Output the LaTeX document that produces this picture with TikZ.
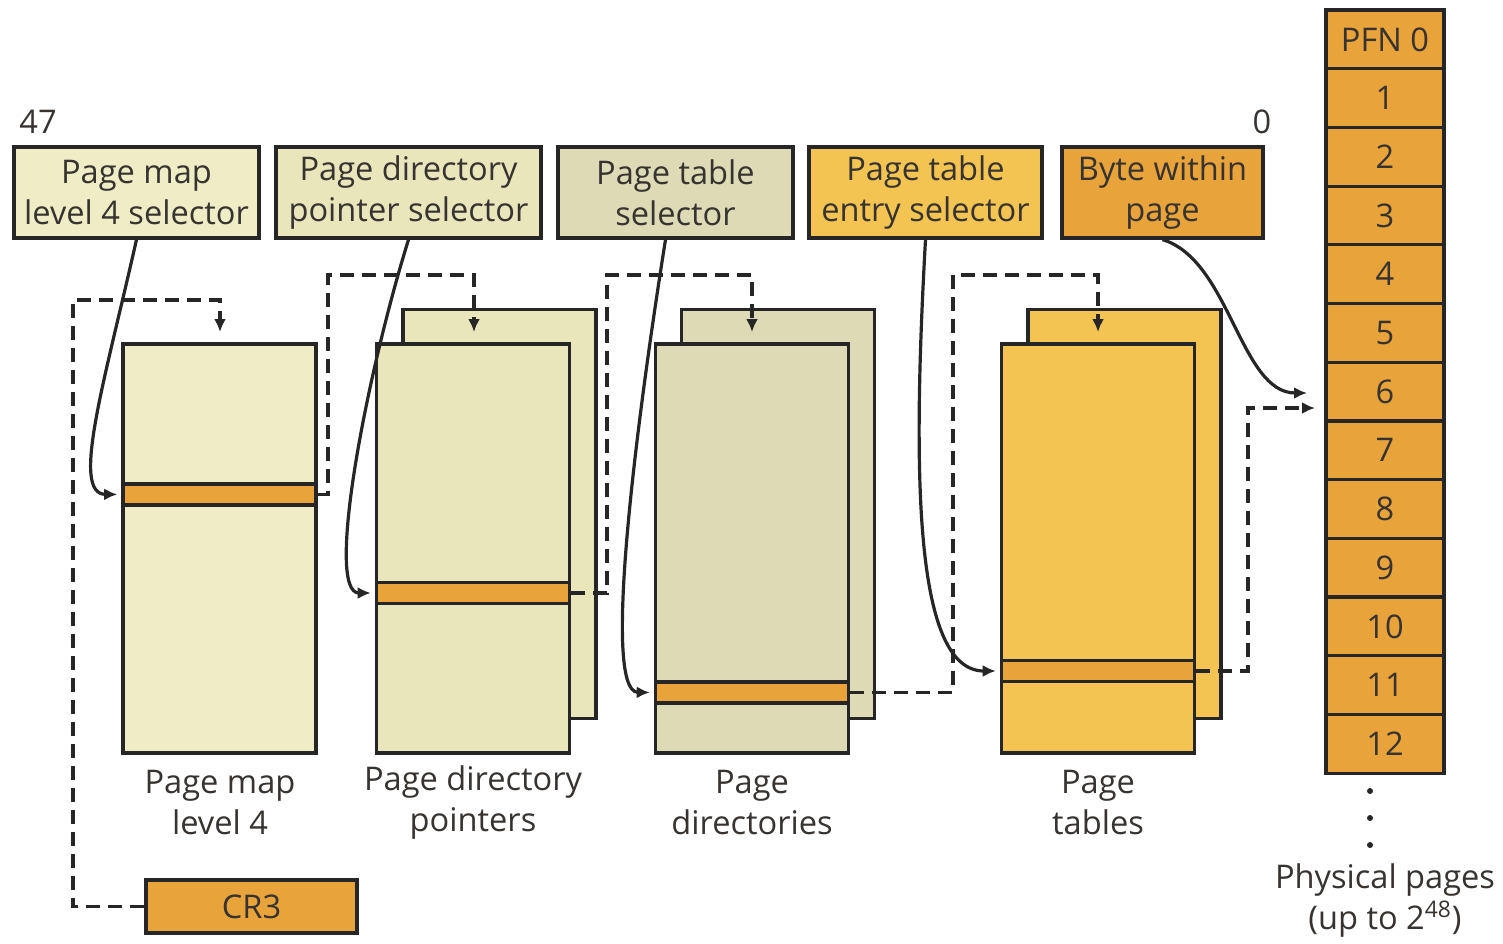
\documentclass[tikz,border=0pt]{standalone}
\usepackage{fontspec}
\setmainfont{Open Sans}
\usetikzlibrary{arrows.meta}
\definecolor{linec}{HTML}{262626}
\definecolor{txt}{HTML}{363330}
\definecolor{pmlfill}{HTML}{EFEDC5}
\definecolor{pdpfill}{HTML}{E8E6BA}
\definecolor{pdfill}{HTML}{DCDBB5}
\definecolor{ptfill}{HTML}{F4C452}
\definecolor{orng}{HTML}{E8A33B}
\begin{document}
\begin{tikzpicture}[x=0.5pt,y=-0.5pt,
  every node/.style={text=txt, font=\fontsize{16.3}{20.5}\selectfont},
  selbox/.style={draw=linec, line width=1.6pt, inner sep=0pt, align=center,
    minimum height=45.5pt},
  page/.style={draw=linec, line width=1.6pt, inner sep=0pt,
    minimum width=96.5pt, minimum height=204.5pt},
  band/.style={draw=linec, line width=1.8pt, fill=orng, inner sep=0pt,
    minimum width=96.5pt, minimum height=10.5pt},
  cell/.style={draw=linec, line width=1.6pt, fill=orng, inner sep=0pt,
    minimum width=59pt, minimum height=29.35pt},
  caption/.style={align=center, inner sep=0pt},
  dashline/.style={draw=linec, line width=1.8pt, dash pattern=on 7pt off 4pt},
  selline/.style={draw=linec, line width=1.6pt, shorten >=2pt},
  arrowend/.style={-{Latex[length=6.5pt,width=6pt]}},
]
\path[use as bounding box] (0,0) rectangle (1503,943);

% bit numbers
\node (bit47) at (38,122) {47};
\node (bit0) at (1262,122) {0};

% virtual address fields
\node[selbox, fill=pmlfill, minimum width=122.5pt] (sel1) at (136.5,192.5) {Page map\\level 4 selector};
\node[selbox, fill=pdpfill, minimum width=132.5pt] (sel2) at (408.5,192.5) {Page directory\\pointer selector};
\node[selbox, fill=pdfill, minimum width=117.5pt] (sel3) at (675.5,192.5) {Page table\\selector};
\node[selbox, fill=ptfill, minimum width=116.5pt] (sel4) at (925.5,192.5) {Page table\\entry selector};
\node[selbox, fill=orng, minimum width=100.5pt] (sel5) at (1162.5,192.5) {Byte within\\page};

% translation tables (back copies first)
\node[page, fill=pdpfill] (pdpback) at (499.5,514) {};
\node[page, fill=pdfill] (pdback) at (778,514) {};
\node[page, fill=ptfill] (ptback) at (1124.5,514) {};
\node[page, fill=pmlfill] (pml) at (219.5,548.5) {};
\node[page, fill=pdpfill] (pdp) at (473,548.5) {};
\node[page, fill=pdfill] (pd) at (752,548.5) {};
\node[page, fill=ptfill] (pt) at (1098,548.5) {};

% selected entries
\node[band] (b1) at (219.5,494.5) {};
\node[band] (b2) at (473,593) {};
\node[band] (b3) at (752,692.5) {};
\node[band] (b4) at (1098,671) {};

% table captions
\node[caption] (cap1) at (220,803) {Page map\\level 4};
\node[caption] (cap2) at (473,803) {Page directory\\pointers};
\node[caption] (cap3) at (752,803) {Page\\directories};
\node[caption] (cap4) at (1098,803) {Page\\tables};

% CR3 register
\node[draw=linec, line width=1.6pt, fill=orng, inner sep=0pt,
  minimum width=105.5pt, minimum height=26.5pt] (cr3) at (251.5,906.5) {CR3};

% physical pages
\foreach \i/\t in {0/PFN 0,1/1,2/2,3/3,4/4,5/5,6/6,7/7,8/8,9/9,10/10,11/11,12/12}
  \node[cell] (pfn\i) at (1385,{10+58.7*(\i+0.5)}) {\t};
\foreach \yy in {791,818,845}
  \fill[linec] (1370,\yy) circle (1.5pt);
\node[caption] (physcap) at (1385,901) {Physical pages\\(up to 2\textsuperscript{48})};

% table base pointers
\coordinate (in1) at (220,332);
\coordinate (in2) at (474,332);
\coordinate (in3) at (752,332);
\coordinate (in4) at (1098,332);
\coordinate (in5) at (1315,408);
\draw[dashline, arrowend] (cr3.west) -| (73,300) -| (in1);
\draw[dashline, arrowend] (b1.east) -| (328,275) -| (in2);
\draw[dashline, arrowend] (b2.east) -| (607,275) -| (in3);
\draw[dashline, arrowend] (b3.east) -| (953,275) -| (in4);
\draw[dashline, arrowend] (b4.east) -| (1248,408) -- (in5);

% index selectors
\draw[selline, arrowend] (sel1.south) .. controls (105,380) and (70,494) .. (b1.west);
\draw[selline, arrowend] (sel2.south) .. controls (365,380) and (325,593) .. (b2.west);
\draw[selline, arrowend] ([xshift=-5pt]sel3.south) .. controls (640,400) and (600,692) .. (b3.west);
\draw[selline, arrowend] (sel4.south) .. controls (912,480) and (915,671) .. (b4.west);
\coordinate (byteend) at (1311,393);
\draw[selline, arrowend] (sel5.south) .. controls (1230,260) and (1240,393) .. (byteend);
\end{tikzpicture}
\end{document}
